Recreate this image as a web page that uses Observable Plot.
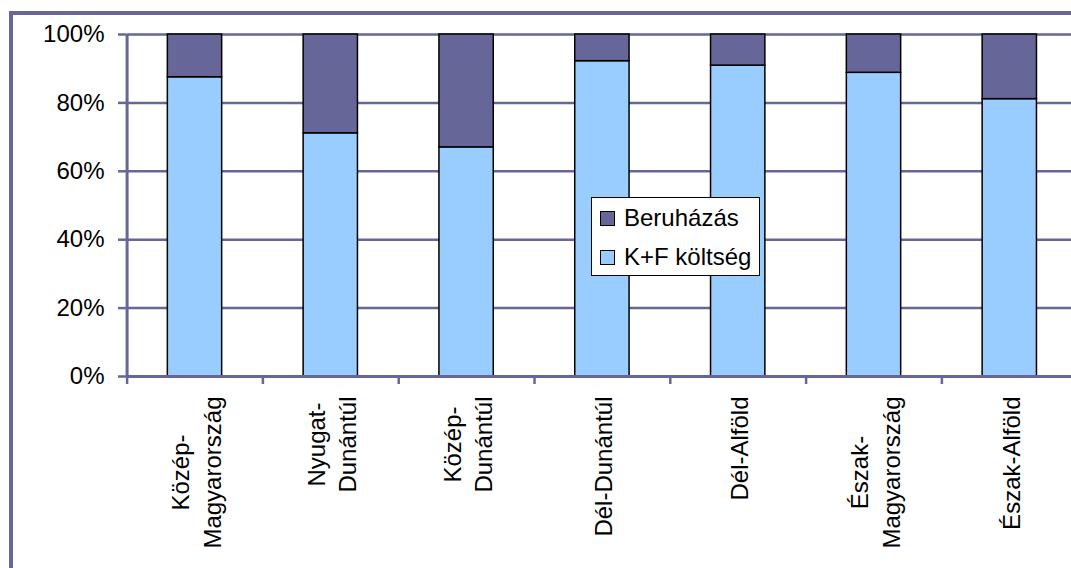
<!DOCTYPE html>
<html>
<head>
<meta charset="utf-8">
<script src="https://cdn.jsdelivr.net/npm/d3@7"></script>
<script src="https://cdn.jsdelivr.net/npm/@observablehq/plot@0.6"></script>
<style>
  html, body { margin: 0; padding: 0; background: #fff; overflow: hidden; }
  #wrap { position: relative; width: 1071px; height: 568px; overflow: hidden;
          font-family: "Liberation Sans", Arial, sans-serif; }
  #frameBorder { position: absolute; left: 9px; top: 11px; width: 1200px; height: 700px;
                 border: 4px solid #666699; box-sizing: border-box; }
  #chart { position: absolute; left: 0; top: 0; }
  #legend { position: absolute; left: 591px; top: 197px; width: 167px; height: 77px;
            border: 1px solid #000; background: #fff; font-size: 24px; color: #000; }
  #legend .row { position: absolute; left: 8px; height: 30px; display: flex; align-items: center; white-space: nowrap; }
  #legend .sw { width: 13px; height: 13px; border: 1px solid #000; margin-right: 9px; }
</style>
</head>
<body>
<div id="wrap">
  <div id="frameBorder"></div>
  <div id="chart"></div>
  <div id="legend"></div>
</div>
<script>
// ---- Data ----
const regions = ["Közép-\nMagyarország", "Nyugat-\nDunántúl", "Közép-\nDunántúl", "Dél-Dunántúl", "Dél-Alföld", "Észak-\nMagyarország", "Észak-Alföld"];
const kfShare = [0.875, 0.711, 0.670, 0.922, 0.909, 0.888, 0.811];   // K+F költség share
const seriesNames = ["Beruházás", "K+F költség"];
const seriesColors = ["#666699", "#99CCFF"];
const yTicks = [0, 0.2, 0.4, 0.6, 0.8, 1.0];
const yTickLabels = ["0%", "20%", "40%", "60%", "80%", "100%"];

// ---- Build table ----
const rows = [];
regions.forEach((r, i) => {
  rows.push({region: r, i, series: "K+F költség", y1: 0, y2: kfShare[i]});
  rows.push({region: r, i, series: "Beruházás", y1: kfShare[i], y2: 1});
});

const axisColor = "#666699";
const font = "\"Liberation Sans\", Arial, sans-serif";
const fontSize = 24;
const n = regions.length;

// measure label widths so multi-line rotated labels are centred and start just below the axis
const ctx = document.createElement("canvas").getContext("2d");
ctx.font = `${fontSize}px "Liberation Sans", Arial, sans-serif`;
const labelMarks = regions.map((lab, i) => {
  const w = d3.max(lab.split("\n"), s => ctx.measureText(s).width);
  return Plot.text([{lab, i}], {
    x: d => d.i + 0.5, y: () => 0, text: "lab",
    rotate: -90, textAnchor: "middle", lineAnchor: "middle", lineHeight: 1.3,
    fontSize, fill: "#000", dy: 20 + w / 2
  });
});

const chart = Plot.plot({
  width: 1071, height: 568,
  marginLeft: 126, marginRight: 0, marginTop: 34, marginBottom: 192,
  x: {type: "linear", domain: [0, n], range: [126.6, 1077.2], axis: null},
  y: {domain: [0, 1], axis: null},
  color: {domain: seriesNames, range: seriesColors},
  style: {fontFamily: font, fontSize: fontSize + "px", background: "transparent", overflow: "hidden"},
  marks: [
    Plot.ruleY(yTicks.slice(1), {x1: () => 0, x2: () => n, stroke: axisColor, strokeWidth: 2.5}),
    Plot.rect(rows, {x1: d => d.i + 0.3, x2: d => d.i + 0.7, y1: "y1", y2: "y2",
                     fill: "series", stroke: "#000", strokeWidth: 1.5}),
    Plot.ruleY([0], {x1: () => 0, x2: () => n, stroke: axisColor, strokeWidth: 3}),
    Plot.ruleX([0], {stroke: axisColor, strokeWidth: 3}),
    Plot.axisY({ticks: yTicks, tickSize: 8, tickPadding: 14,
                tickFormat: d => yTickLabels[yTicks.indexOf(d)],
                stroke: axisColor, strokeWidth: 2.5, fill: "#000", fontSize, label: null}),
    Plot.axisX({ticks: d3.range(0, n + 1), tickSize: 8, tickFormat: () => "",
                stroke: axisColor, strokeWidth: 2.5, label: null}),
    ...labelMarks
  ]
});
document.getElementById("chart").appendChild(chart);

// legend
const legend = document.getElementById("legend");
seriesNames.forEach((s, k) => {
  const row = document.createElement("div");
  row.className = "row";
  row.style.top = (5 + k * 39) + "px";
  const sw = document.createElement("div");
  sw.className = "sw";
  sw.style.background = seriesColors[k];
  const t = document.createElement("span");
  t.textContent = s;
  row.appendChild(sw); row.appendChild(t);
  legend.appendChild(row);
});
</script>
</body>
</html>
